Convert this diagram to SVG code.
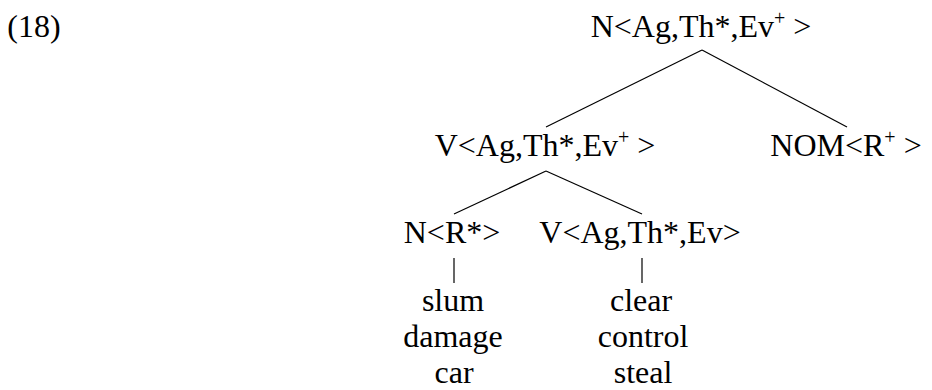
<svg xmlns="http://www.w3.org/2000/svg" width="932" height="390" viewBox="0 0 932 390">
<style>
text{font-family:"Liberation Serif","DejaVu Serif",serif;font-size:32px;fill:#000;text-anchor:middle}
.sup{font-size:20px}
.e{stroke:#000;stroke-width:1.2;fill:none}
</style>
<rect width="932" height="390" fill="#fff"/>
<text x="34" y="37">(18)</text>
<g id="n_top"><text x="701" y="37">N&lt;Ag,Th*,Ev<tspan class="sup" dy="-12">+</tspan><tspan dy="12"> &gt;</tspan></text></g>
<g id="n_v1"><text x="545" y="156">V&lt;Ag,Th*,Ev<tspan class="sup" dy="-12">+</tspan><tspan dy="12"> &gt;</tspan></text></g>
<g id="n_nom"><text x="846" y="156">NOM&lt;R<tspan class="sup" dy="-12">+</tspan><tspan dy="12"> &gt;</tspan></text></g>
<g id="n_nr"><text x="452" y="243">N&lt;R*&gt;</text></g>
<g id="n_v2"><text x="640" y="243">V&lt;Ag,Th*,Ev&gt;</text></g>
<g id="n_leaf1"><text x="453" y="311">slum</text><text x="453" y="347">damage</text><text x="454" y="383">car</text></g>
<g id="n_leaf2"><text x="641" y="311">clear</text><text x="643" y="347">control</text><text x="643" y="383">steal</text></g>
<g id="connectors" class="e">
<line x1="702" y1="50" x2="546" y2="127"/>
<line x1="702" y1="50" x2="847" y2="127"/>
<line x1="546" y1="171" x2="454" y2="214"/>
<line x1="546" y1="171" x2="642" y2="214"/>
<line x1="454" y1="258" x2="454" y2="283"/>
<line x1="642" y1="258" x2="642" y2="283"/>
</g>
</svg>
